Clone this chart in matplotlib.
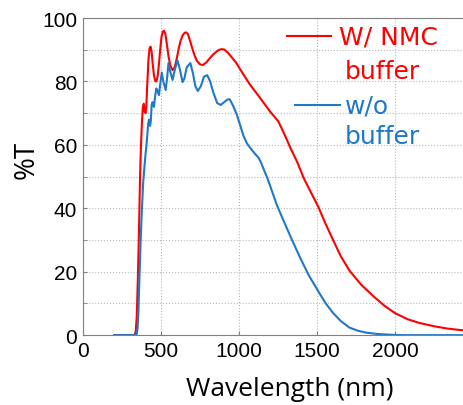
import matplotlib
matplotlib.use("Agg")
import matplotlib.pyplot as plt
from matplotlib.ticker import MultipleLocator

# wavelength (nm) / %T
wl_nmc = [200, 330, 338, 345, 352, 360, 366, 372, 378, 384, 390, 396, 401, 406, 412, 420,
          427, 433, 440, 447, 455, 463, 470, 478, 486, 494, 503, 512, 520, 528, 537, 548,
          560, 574, 588, 600, 612, 625, 638, 650, 660, 672, 685, 700, 715, 730, 750, 768,
          790, 815, 840, 865, 885, 905, 930, 955, 983, 1005, 1037, 1070, 1124, 1199, 1250,
          1275, 1307, 1329, 1372, 1415, 1460, 1508, 1550, 1598, 1650, 1706, 1780, 1857,
          1930, 2000, 2080, 2158, 2250, 2331, 2400, 2460]
t_nmc = [0, 0, 1, 6, 18, 35, 50, 60, 67, 72, 73, 70.5, 70, 72, 79, 87,
         90.5, 91, 89.5, 85.5, 82, 80.2, 80, 81.5, 85, 89.5, 94, 95.8, 96, 95, 92, 88,
         85, 83.6, 84.5, 87, 90, 92.8, 94.5, 95.3, 95.5, 95, 93, 90.5, 88.2, 86.5, 85.4, 85.2,
         86, 87.5, 88.8, 89.8, 90.2, 90.1, 89, 87.5, 85.8, 84, 81.5, 79, 75.5, 70.5, 67.5,
         65, 61.5, 59, 54.6, 49.4, 45, 40.4, 35.5, 30.4, 25, 20.4, 16, 12.4,
         9.3, 6.9, 5, 3.8, 2.8, 2.1, 1.7, 1.4]

wl_wo = [200, 343, 350, 356, 362, 370, 378, 386, 394, 401, 408, 413, 418, 424, 430, 435,
         440, 446, 455, 463, 470, 478, 487, 496, 505, 515, 530, 540, 548, 560, 574, 590,
         606, 620, 638, 650, 665, 688, 705, 720, 736, 755, 775, 796, 815, 835, 860, 882,
         905, 925, 940, 960, 983, 1005, 1027, 1050, 1080, 1100, 1124, 1140, 1156, 1182,
         1210, 1242, 1290, 1339, 1390, 1447, 1511, 1555, 1598, 1650, 1706, 1760, 1814,
         1880, 1943, 2050, 2460]
t_wo = [0, 0, 2, 8, 18, 30, 40, 48, 53, 57, 60.5, 63.5, 66.8, 68, 66, 67.5,
        72.5, 73.5, 72, 75.5, 77.8, 77, 75.7, 79.5, 82.8, 80, 77.3, 81.5, 85.8, 83, 80.5, 84,
        86.6, 84, 79.8, 81, 84.5, 85.8, 82.5, 78.5, 77, 78.5, 81.5, 82, 80, 76.5, 73.2, 72.6,
        73.5, 74.3, 74.4, 72.5, 69.9, 66.5, 63, 60.5, 58.5, 57.3, 56, 54.5, 52.5, 49.4,
        45.5, 41, 35.5, 30, 24.5, 18.8, 13.5, 10, 7.2, 4.5, 2.4, 1.4, 0.8,
        0.4, 0.2, 0, 0]

red = "#ff0000"
blue = "#1f78c8"

fig = plt.figure(figsize=(4.63, 4.06), dpi=100)
ax = fig.add_axes([0.179, 0.172, 0.83, 0.781])

ax.plot(wl_nmc, t_nmc, color=red, lw=1.5)
ax.plot(wl_wo, t_wo, color=blue, lw=1.5)

ax.set_xlim(0, 2460)
ax.set_ylim(0, 100)
ax.yaxis.set_major_locator(MultipleLocator(20))
ax.yaxis.set_minor_locator(MultipleLocator(10))
ax.set_xticks([0, 500, 1000, 1500, 2000])
ax.grid(True, which="both", color="#b8b8b8", ls=":", lw=0.8)
ax.tick_params(which="both", direction="in", length=3, color="#808080",
               labelsize=15, pad=4)
for lab in ax.get_xticklabels() + ax.get_yticklabels():
    lab.set_fontfamily("Liberation Sans")
for s in ["left", "bottom", "top"]:
    ax.spines[s].set_color("#808080")
ax.spines["right"].set_visible(False)

ax.set_xlabel("Wavelength (nm)", fontsize=19, family="Open Sans")
ax.set_ylabel("%T", fontsize=20, family="Open Sans")
ax.xaxis.set_label_coords(0.539, -0.13)
ax.yaxis.set_label_coords(-0.11, 0.557)

# legend drawn by hand, coloured text
ax.plot([1307, 1586], [94.3, 94.3], color=red, lw=1.5)
ax.text(1637, 94.3, "W/ NMC", color=red, fontsize=18, va="center", ha="left")
ax.text(1676, 83.2, "buffer", color=red, fontsize=18, va="center", ha="left")
ax.plot([1359, 1643], [72.5, 72.5], color=blue, lw=1.5)
ax.text(1676, 72.5, "w/o", color=blue, fontsize=18, va="center", ha="left")
ax.text(1676, 62.8, "buffer", color=blue, fontsize=18, va="center", ha="left")

fig.savefig("out.png", dpi=100)
